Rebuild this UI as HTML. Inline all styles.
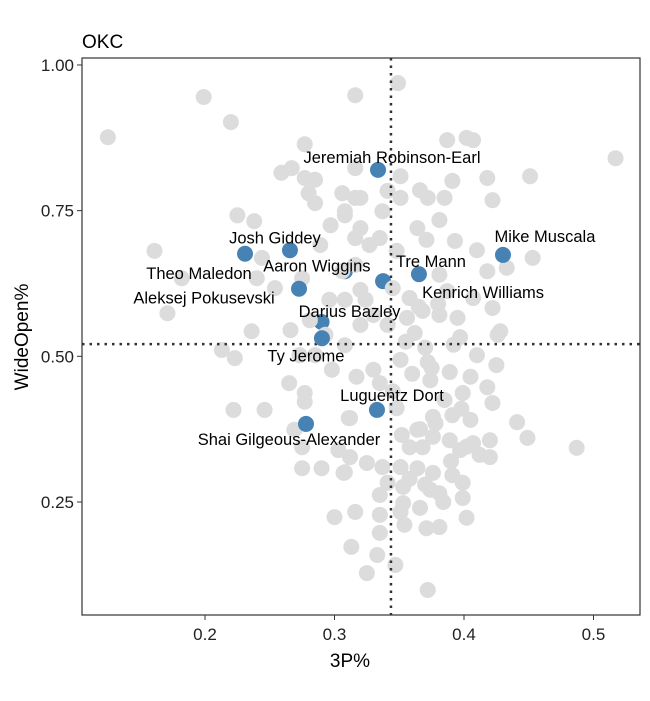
<!DOCTYPE html>
<html><head><meta charset="utf-8"><style>
html,body{margin:0;padding:0;background:#fff;}
svg text{font-family:"Liberation Sans",Arial,sans-serif;}
</style></head><body>
<svg id="chart" width="650" height="696" viewBox="0 0 650 696" xmlns="http://www.w3.org/2000/svg">
<text x="82" y="48" font-size="19" fill="#000">OKC</text>
<g id="blue"></g>
<g id="grey"></g>
<g id="refs"></g>
<g id="blue2"></g>
<g id="labels"></g>
<rect x="82" y="58" width="558" height="557" fill="none" stroke="#333" stroke-width="1.2"/>
<g id="axes"></g>
<text x="350" y="667" font-size="19" text-anchor="middle" fill="#000">3P%</text>
<text transform="translate(28,337) rotate(-90)" font-size="19" text-anchor="middle" fill="#000">WideOpen%</text>
</svg>
<script>
const greyX=[0.125,0.199,0.220,0.277,0.259,0.267,0.277,0.285,0.280,0.285,0.306,0.316,0.308,0.316,0.316,0.225,0.238,0.316,0.161,0.244,0.275,0.240,0.182,0.171,0.236,0.254,0.306,0.349,0.387,0.402,0.407,0.517,0.451,0.418,0.391,0.351,0.366,0.372,0.385,0.422,0.341,0.351,0.320,0.308,0.337,0.381,0.364,0.320,0.335,0.371,0.393,0.410,0.453,0.433,0.418,0.381,0.348,0.327,0.345,0.387,0.407,0.422,0.368,0.381,0.356,0.395,0.428,0.320,0.341,0.330,0.397,0.426,0.410,0.425,0.372,0.389,0.351,0.330,0.317,0.335,0.405,0.418,0.374,0.399,0.422,0.312,0.348,0.376,0.391,0.405,0.441,0.449,0.487,0.364,0.376,0.389,0.407,0.420,0.358,0.368,0.397,0.412,0.420,0.312,0.325,0.337,0.351,0.364,0.307,0.376,0.391,0.399,0.341,0.353,0.374,0.381,0.335,0.353,0.366,0.399,0.316,0.335,0.351,0.402,0.371,0.381,0.335,0.313,0.333,0.325,0.372,0.213,0.223,0.298,0.265,0.277,0.277,0.222,0.246,0.311,0.269,0.275,0.303,0.275,0.290,0.308,0.300,0.266,0.281,0.293,0.308,0.320,0.296,0.285,0.308,0.273,0.347,0.354,0.324,0.316,0.289,0.297,
0.358,0.365,0.380,0.362,0.355,0.370,0.392,0.360,0.375,0.385,0.398,0.345,0.352,0.366,0.378,0.390,0.402,0.358,0.370,0.384];
const greyY=[0.876,0.945,0.902,0.864,0.815,0.823,0.806,0.803,0.780,0.763,0.780,0.772,0.742,0.823,0.948,0.742,0.732,0.703,0.681,0.669,0.634,0.634,0.634,0.574,0.543,0.617,0.646,0.969,0.871,0.875,0.871,0.840,0.809,0.806,0.801,0.809,0.785,0.772,0.772,0.768,0.784,0.772,0.772,0.749,0.749,0.734,0.720,0.720,0.703,0.700,0.698,0.682,0.669,0.652,0.646,0.640,0.681,0.691,0.617,0.612,0.600,0.583,0.578,0.571,0.566,0.566,0.543,0.554,0.554,0.571,0.533,0.537,0.502,0.485,0.490,0.473,0.494,0.477,0.465,0.454,0.465,0.447,0.459,0.437,0.420,0.394,0.411,0.396,0.399,0.391,0.387,0.360,0.343,0.374,0.362,0.356,0.351,0.356,0.344,0.344,0.339,0.331,0.327,0.327,0.317,0.310,0.310,0.308,0.300,0.300,0.296,0.283,0.283,0.276,0.271,0.265,0.262,0.248,0.240,0.257,0.233,0.228,0.233,0.223,0.205,0.207,0.197,0.173,0.159,0.128,0.099,0.511,0.497,0.477,0.454,0.437,0.422,0.408,0.408,0.394,0.374,0.344,0.339,0.308,0.308,0.301,0.224,0.545,0.562,0.537,0.597,0.614,0.597,0.502,0.519,0.502,0.142,0.211,0.597,0.657,0.691,0.725,
0.600,0.585,0.590,0.540,0.525,0.515,0.520,0.470,0.480,0.425,0.410,0.440,0.365,0.375,0.385,0.320,0.345,0.290,0.280,0.250];
const players=["Jeremiah Robinson-Earl","Josh Giddey","Theo Maledon","Aaron Wiggins","Aleksej Pokusevski","Darius Bazley","Ty Jerome","Kenrich Williams","Tre Mann","Mike Muscala","Luguentz Dort","Shai Gilgeous-Alexander"];
const playerX=[0.3336,0.2656,0.2309,0.308,0.2726,0.290,0.2903,0.3375,0.3652,0.4301,0.3328,0.278];
const playerY=[0.820,0.682,0.676,0.646,0.616,0.559,0.531,0.629,0.641,0.674,0.408,0.384];
const xTicks=[0.2,0.3,0.4,0.5];
const xTickLabels=["0.2","0.3","0.4","0.5"];
const yTicks=[0.25,0.5,0.75,1.0];
const yTickLabels=["0.25","0.50","0.75","1.00"];
const refX=0.3436, refY=0.521;
// label layout (pixel offsets from point), and whether point drawn on top of grey
const labelDx=[14,-15,-46,-28,-95,28,-16,100,12,42,15,-17];
const labelDy=[-7,-7,25,0,15,-5,23,17,-7,-13,-9,21];
const onTop=[false,true,true,false,true,false,true,false,true,true,false,true];

const sx=v=>205+(v-0.2)*1295;
const sy=v=>502-(v-0.25)*582.7;
const NS="http://www.w3.org/2000/svg";
function mk(tag,attrs,parent){const e=document.createElementNS(NS,tag);for(const k in attrs)e.setAttribute(k,attrs[k]);parent.appendChild(e);return e;}
const gB=document.getElementById('blue'),gB2=document.getElementById('blue2'),gG=document.getElementById('grey'),gL=document.getElementById('labels'),gR=document.getElementById('refs'),gA=document.getElementById('axes');
for(let i=0;i<greyX.length;i++){
  const c=mk('circle',{cx:sx(greyX[i]),cy:sy(greyY[i]),r:8,fill:'#dcdcdc'},gG);
  
  
}
const vl=mk('line',{x1:sx(refX),x2:sx(refX),y1:58,y2:615,stroke:'#333','stroke-width':2.5,'stroke-dasharray':'2.5 5'},gR);


const hl=mk('line',{x1:82,x2:640,y1:sy(refY),y2:sy(refY),stroke:'#333','stroke-width':2.5,'stroke-dasharray':'2.5 5'},gR);


for(let i=0;i<players.length;i++){
  const px=sx(playerX[i]),py=sy(playerY[i]);
  const c=mk('circle',{cx:px,cy:py,r:8,fill:'#4682b4'},onTop[i]?gB2:gB);
  
  
  const t=mk('text',{x:px+labelDx[i],y:py+labelDy[i],'font-size':16.5,'text-anchor':'middle',fill:'#000'},gL);
  t.textContent=players[i];
  
  
}
for(let i=0;i<xTicks.length;i++){
  const x=sx(xTicks[i]);
  const l=mk('line',{x1:x,x2:x,y1:615,y2:620,stroke:'#333'},gA);
  
  
  const t=mk('text',{x:x,y:640,'font-size':17,'text-anchor':'middle',fill:'#222'},gA);
  t.textContent=xTickLabels[i];
  
  
}
for(let i=0;i<yTicks.length;i++){
  const y=sy(yTicks[i]);
  const l=mk('line',{x1:77,x2:82,y1:y,y2:y,stroke:'#333'},gA);
  
  
  const t=mk('text',{x:74,y:y+6,'font-size':17,'text-anchor':'end',fill:'#222'},gA);
  t.textContent=yTickLabels[i];
  
  
}
</script>
</body></html>
